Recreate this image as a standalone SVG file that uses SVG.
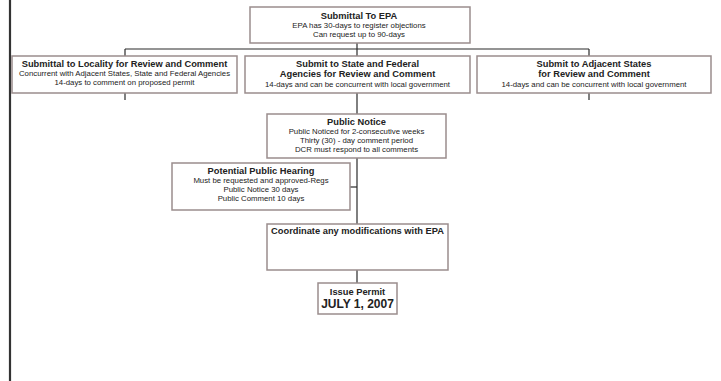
<svg xmlns="http://www.w3.org/2000/svg" width="721" height="381" viewBox="0 0 721 381">
<style>
.box{fill:#fff;stroke:#9a8d8d;stroke-width:1.5}
.ln{stroke:#2b2b2b;stroke-width:1.2;fill:none}
text{font-family:"Liberation Sans",Arial,sans-serif;fill:#222;text-anchor:middle}
.t{font-weight:bold;font-size:9.3px}
.s{font-size:7.8px}
.big{font-weight:bold;font-size:12px}
</style>
<rect width="721" height="381" fill="#fff"/>
<line x1="10" y1="0" x2="10" y2="381" stroke="#333" stroke-width="2.2"/>
<g id="connectors">
<line class="ln" x1="357" y1="43" x2="357" y2="283"/>
<line class="ln" x1="125" y1="49" x2="589" y2="49"/>
<line class="ln" x1="125" y1="49" x2="125" y2="100"/>
<line class="ln" x1="589" y1="49" x2="589" y2="100"/>
<line class="ln" x1="350" y1="187" x2="357" y2="187"/>
</g>
<g id="epa">
<rect class="box" x="250" y="7" width="220" height="36"/>
<text class="t" x="359" y="19">Submittal To EPA</text>
<text class="s" x="359" y="28">EPA has 30-days to register objections</text>
<text class="s" x="359" y="37">Can request up to 90-days</text>
</g>
<g id="locality">
<rect class="box" x="12" y="56" width="225" height="37"/>
<text class="t" x="124.5" y="67">Submittal to Locality for Review and Comment</text>
<text class="s" x="124.5" y="76">Concurrent with Adjacent States, State and Federal Agencies</text>
<text class="s" x="124.5" y="85">14-days to comment on proposed permit</text>
</g>
<g id="state">
<rect class="box" x="245" y="56" width="225" height="37"/>
<text class="t" x="357.5" y="67">Submit to State and Federal</text>
<text class="t" x="357.5" y="77">Agencies for Review and Comment</text>
<text class="s" x="357.5" y="87">14-days and can be concurrent with local government</text>
</g>
<g id="adjacent">
<rect class="box" x="477" y="56" width="234" height="37"/>
<text class="t" x="594" y="67">Submit to Adjacent States</text>
<text class="t" x="594" y="77">for Review and Comment</text>
<text class="s" x="594" y="87">14-days and can be concurrent with local government</text>
</g>
<g id="notice">
<rect class="box" x="267" y="114" width="179" height="44"/>
<text class="t" x="356.5" y="125">Public Notice</text>
<text class="s" x="356.5" y="134">Public Noticed for 2-consecutive weeks</text>
<text class="s" x="356.5" y="143">Thirty (30) - day comment period</text>
<text class="s" x="356.5" y="152">DCR must respond to all comments</text>
</g>
<g id="hearing">
<rect class="box" x="172" y="163" width="178" height="47"/>
<text class="t" x="261" y="174">Potential Public Hearing</text>
<text class="s" x="261" y="183">Must be requested and approved-Regs</text>
<text class="s" x="261" y="192">Public Notice 30 days</text>
<text class="s" x="261" y="201">Public Comment 10 days</text>
</g>
<g id="coordinate">
<rect class="box" x="267" y="224" width="181" height="46"/>
<text class="t" x="357.5" y="234">Coordinate any modifications with EPA</text>
</g>
<g id="issue">
<rect class="box" x="318" y="283" width="79" height="31"/>
<text class="t" x="357.5" y="295">Issue Permit</text>
<text class="big" x="357.5" y="308">JULY 1, 2007</text>
</g>
</svg>
